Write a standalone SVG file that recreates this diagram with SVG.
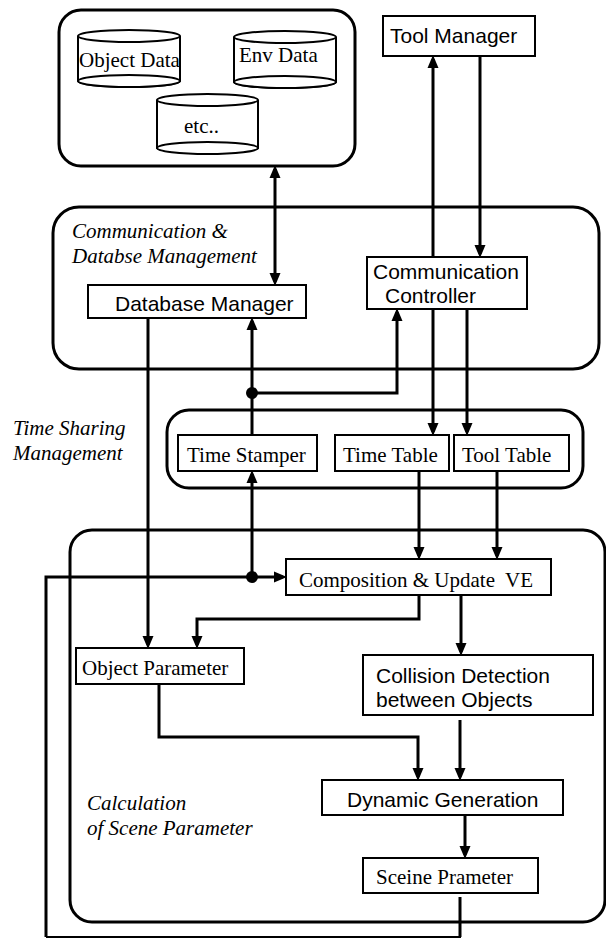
<svg xmlns="http://www.w3.org/2000/svg" width="606" height="939" viewBox="0 0 606 939">
<defs>
<marker id="ah" markerUnits="userSpaceOnUse" markerWidth="13" markerHeight="12" refX="9" refY="6" orient="auto-start-reverse" viewBox="0 0 13 12">
<path d="M0,0.5 L13,6 L0,11.5 z" fill="#000"/>
</marker>
<style>
.grp{fill:none;stroke:#000;stroke-width:3}
.box{fill:#fff;stroke:#000;stroke-width:2}
.cyl{fill:#fff;stroke:#000;stroke-width:2}
.ser{font-family:"Liberation Serif","Times New Roman",serif;font-size:21px;fill:#000;white-space:pre}
.it{font-family:"Liberation Serif","Times New Roman",serif;font-size:21px;font-style:italic;fill:#000}
.san{font-family:"Liberation Sans",Arial,sans-serif;font-size:21px;fill:#000}
.ln{fill:none;stroke:#000;stroke-width:3}
.arr{fill:none;stroke:#000;stroke-width:3;marker-end:url(#ah)}
</style>
</defs>
<rect width="606" height="939" fill="#fff"/>

<g id="data-store">
<rect class="grp" x="59" y="10" width="296" height="156" rx="22"/>
</g>
<g id="object-data">
<path class="cyl" d="M78,36 L78,81 A51,6 0 0 0 180,81 L180,36"/>
<ellipse class="cyl" cx="129" cy="81" rx="51" ry="6" fill="none"/>
<ellipse class="cyl" cx="129" cy="36" rx="51" ry="6"/>
<text class="ser" x="79" y="67">Object Data</text>
</g>
<g id="env-data">
<path class="cyl" d="M234,37 L234,82 A51,6 0 0 0 336,82 L336,37"/>
<ellipse class="cyl" cx="285" cy="82" rx="51" ry="6" fill="none"/>
<ellipse class="cyl" cx="285" cy="37" rx="51" ry="6"/>
<text class="ser" x="239" y="62">Env Data</text>
</g>
<g id="etc">
<path class="cyl" d="M157,100 L157,148 A51,6 0 0 0 258,148 L258,100"/>
<ellipse class="cyl" cx="207.5" cy="148" rx="50.5" ry="6" fill="none"/>
<ellipse class="cyl" cx="207.5" cy="100" rx="50.5" ry="6"/>
<text class="ser" x="184" y="133">etc..</text>
</g>

<g id="tool-manager">
<rect class="box" x="383" y="16" width="152" height="40"/>
<text class="san" x="390" y="43">Tool Manager</text>
</g>

<g id="comm-db-management">
<rect class="grp" x="53" y="207" width="546" height="162" rx="26"/>
<text class="it" x="72" y="238">Communication &amp;</text>
<text class="it" x="72" y="263">Databse Management</text>
</g>
<g id="database-manager">
<rect class="box" x="88" y="285" width="218" height="33"/>
<text class="san" x="115" y="311">Database Manager</text>
</g>
<g id="communication-controller">
<rect class="box" x="367" y="257" width="160" height="52"/>
<text class="san" x="373" y="279">Communication</text>
<text class="san" x="385" y="303">Controller</text>
</g>

<g id="time-sharing-management">
<rect class="grp" x="167" y="410" width="416" height="78" rx="22"/>
<text class="it" x="13" y="435">Time Sharing</text>
<text class="it" x="13" y="460">Management</text>
</g>
<g id="time-stamper">
<rect class="box" x="178" y="435" width="139" height="36"/>
<text class="ser" x="187" y="462">Time Stamper</text>
</g>
<g id="time-table">
<rect class="box" x="335" y="435" width="114" height="36"/>
<text class="ser" x="343" y="462">Time Table</text>
</g>
<g id="tool-table">
<rect class="box" x="454" y="435" width="115" height="36"/>
<text class="ser" x="462" y="462">Tool Table</text>
</g>

<g id="calculation-scene-parameter">
<rect class="grp" x="70" y="530" width="535" height="392" rx="22"/>
<text class="it" x="87" y="810">Calculation</text>
<text class="it" x="87" y="835">of Scene Parameter</text>
</g>
<g id="composition-update-ve">
<rect class="box" x="286" y="559" width="265" height="36"/>
<text class="ser" x="299" y="587" xml:space="preserve">Composition &amp; Update  VE</text>
</g>
<g id="object-parameter">
<rect class="box" x="76" y="648" width="168" height="36"/>
<text class="ser" x="82" y="675">Object Parameter</text>
</g>
<g id="collision-detection">
<rect class="box" x="363" y="655" width="230" height="60"/>
<text class="san" x="376" y="683">Collision Detection</text>
<text class="san" x="376" y="707">between Objects</text>
</g>
<g id="dynamic-generation">
<rect class="box" x="322" y="780" width="241" height="35"/>
<text class="san" x="347" y="807">Dynamic Generation</text>
</g>
<g id="sceine-prameter">
<rect class="box" x="363" y="858" width="175" height="35"/>
<text class="ser" x="376" y="884">Sceine Prameter</text>
</g>

<g id="connectors">
<path class="arr" d="M275,169 L275,282" marker-start="url(#ah)"/>
<path class="arr" d="M433,257 L433,59"/>
<path class="arr" d="M480,56 L480,254"/>
<path class="arr" d="M433,309 L433,432"/>
<path class="arr" d="M467,309 L467,432"/>
<path class="arr" d="M252,435 L252,321"/>
<path class="arr" d="M252,393 L397,393 L397,312"/>
<path class="arr" d="M148,318 L148,645"/>
<path class="arr" d="M252,577 L252,474"/>
<path class="arr" d="M252,577 L283,577"/>
<path class="arr" d="M419,471 L419,556"/>
<path class="arr" d="M497,471 L497,556"/>
<path class="arr" d="M419,595 L419,619 L197,619 L197,645"/>
<path class="arr" d="M461,595 L461,652"/>
<path class="arr" d="M159,684 L159,737 L418,737 L418,777"/>
<path class="arr" d="M460,720 L460,777"/>
<path class="arr" d="M465,815 L465,855"/>
<path class="ln" d="M460,897 L460,937"/>
<path fill="none" stroke="#000" stroke-width="2" d="M461,937 L46,937"/>
<path class="ln" d="M46,937 L46,577 L252,577"/>
<circle cx="252" cy="393" r="6" fill="#000"/>
<circle cx="252" cy="577" r="6" fill="#000"/>
</g>
</svg>
